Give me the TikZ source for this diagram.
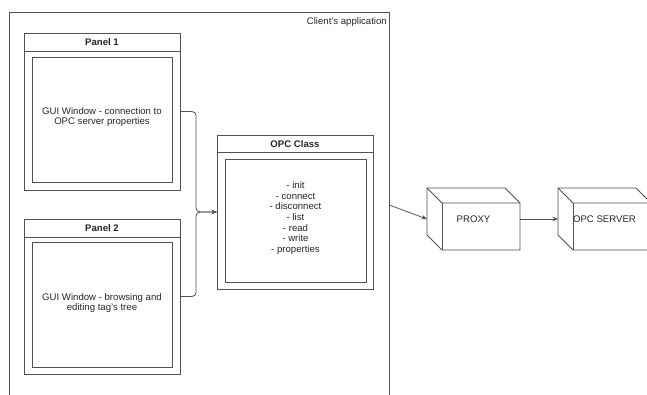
\documentclass[tikz,border=0pt]{standalone}
\usepackage{fontspec}
\setmainfont{Liberation Sans}
\usetikzlibrary{arrows.meta}

\tikzset{
  ln/.style={draw=black!68, line width=0.8pt},
  box/.style={ln, rectangle, inner sep=0pt, outer sep=0pt},
  lbl/.style={inner sep=0pt, align=center, text=black!85,
              font=\fontsize{9.6}{10.7}\selectfont},
  hdr/.style={lbl, font=\fontsize{9.6}{11}\selectfont\bfseries},
  conn/.style={ln, -{Stealth[length=5.5pt,width=4.5pt]}},
  ghost/.style={rectangle, inner sep=0pt, outer sep=0pt},
}

% outline of a 3D box around a rectangular node
\newcommand{\cubeoutline}[1]{%
  \draw[ln] (#1.north west) -- ([xshift=-15pt]#1.north east)
    -- ([yshift=-15pt]#1.north east) -- (#1.south east)
    -- ([xshift=15pt]#1.south west) -- ([yshift=15pt]#1.south west) -- cycle;
  \draw[ln] (#1.north west) -- ([xshift=15pt,yshift=-15pt]#1.north west)
    -- ([yshift=-15pt]#1.north east);
  \draw[ln] ([xshift=15pt,yshift=-15pt]#1.north west) -- ([xshift=15pt]#1.south west);
}

\begin{document}
\begin{tikzpicture}[x=1pt, y=-1pt]
  \useasboundingbox (0,0) rectangle (647,394);
  \fill[white] (0,0) rectangle (647,394);
  \clip (0,0) rectangle (647,394);

  % application container
  \node[box, minimum width=380, minimum height=386] (app) at (199,205) {};
  \node[lbl, anchor=north east] (applbl) at ([xshift=-2pt,yshift=-5pt]app.north east) {Client's application};

  % Panel 1
  \node[box, minimum width=156, minimum height=157] (p1) at (102,111.5) {};
  \draw[ln] ([yshift=-18.5pt]p1.north west) -- ([yshift=-18.5pt]p1.north east);
  \node[hdr] (p1h) at ([yshift=-9.5pt]p1.north) {Panel 1};
  \node[box, minimum width=140, minimum height=125] (p1i) at (102,119.5) {};
  \node[lbl] (p1t) at (102,117) {GUI Window - connection to\\OPC server properties};

  % Panel 2
  \node[box, minimum width=156, minimum height=155] (p2) at (102,296.5) {};
  \draw[ln] ([yshift=-18.5pt]p2.north west) -- ([yshift=-18.5pt]p2.north east);
  \node[hdr] (p2h) at ([yshift=-9.5pt]p2.north) {Panel 2};
  \node[box, minimum width=140, minimum height=125] (p2i) at (102,304.5) {};
  \node[lbl] (p2t) at (102,303) {GUI Window - browsing and\\editing tag's tree};

  % OPC class
  \node[box, minimum width=156, minimum height=154] (opc) at (295,212) {};
  \draw[ln] ([yshift=-17.5pt]opc.north west) -- ([yshift=-17.5pt]opc.north east);
  \node[hdr] (opch) at ([yshift=-9pt]opc.north) {OPC Class};
  \node[box, minimum width=141, minimum height=123] (opci) at (295.5,220.5) {};
  \node[lbl] (opct) at (295.5,218) {- init\\- connect\\- disconnect\\- list\\- read\\- write\\- properties};

  % proxy and OPC server
  \node[ghost, minimum width=93, minimum height=62] (proxy) at (473.5,219) {};
  \cubeoutline{proxy}
  \node[lbl] (proxyt) at (proxy.center) {PROXY};

  \node[ghost, minimum width=93, minimum height=62] (server) at (604.5,219) {};
  \cubeoutline{server}
  \node[lbl] (servert) at (server.center) {OPC SERVER};

  % connectors
  \draw[conn, rounded corners=4pt] (p1.east) -- ([xshift=16pt]p1.east) |- (opc.west);
  \draw[conn, rounded corners=4pt] (p2.east) -- ([xshift=16pt]p2.east) |- (opc.west);
  \draw[conn] (app.east) -- (proxy.west);
  \draw[conn] (proxy.east) -- (server.west);
\end{tikzpicture}
\end{document}
